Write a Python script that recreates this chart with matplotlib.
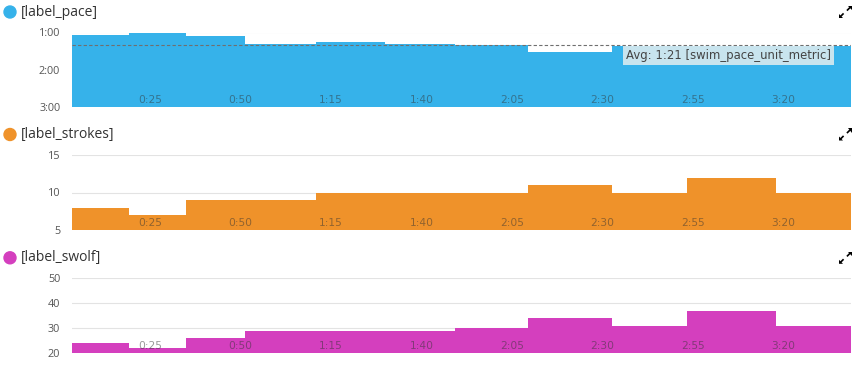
import matplotlib
matplotlib.use("Agg")
import matplotlib.pyplot as plt
from matplotlib.patches import Circle, Polygon
from matplotlib.lines import Line2D

# --- Data (one length per step, 25 m pool) ---
# length boundaries in seconds
edges = [3.5, 19.3, 34.9, 51.4, 70.9, 89.9, 109.3, 129.4, 152.5, 173.3, 197.8, 218.6]
pace = [64, 61, 66, 79, 76, 78, 80, 92, 82, 98, 82]        # sec / 100 m
strokes = [8, 7, 9, 9, 10, 10, 10, 11, 10, 12, 10]
swolf = [24, 22, 26, 29, 29, 29, 30, 34, 31, 37, 31]
pace_avg = 81
x_ticks = [25, 50, 75, 100, 125, 150, 175, 200]

BLUE = "#36b2ea"
ORANGE = "#ef922a"
MAGENTA = "#d43fbe"
W, H = 863, 383


def mmss(s):
    return f"{int(s) // 60}:{int(s) % 60:02d}"


def fx(px):
    return px / W


def fy(py):
    return 1 - py / H


plt.rcParams['font.family'] = ['Open Sans', 'DejaVu Sans']

fig = plt.figure(figsize=(W / 100, H / 100), dpi=100)

panels = [
    # title, values, color, y_top_px, y_bot_px, ylim(bottom, top), yticks, fmt
    ("[label_pace]", pace, BLUE, 32.5, 106.7, (180, 60), [60, 120, 180], mmss),
    ("[label_strokes]", strokes, ORANGE, 155, 230, (5, 15), [5, 10, 15], str),
    ("[label_swolf]", swolf, MAGENTA, 278.3, 353, (20, 50), [20, 30, 40, 50], str),
]

axes = []
for title, vals, color, ytop, ybot, ylim, yticks, fmt in panels:
    ax = fig.add_axes([fx(72), fy(ybot), fx(851 - 72), (ybot - ytop) / H])
    ax.set_xlim(edges[0], edges[-1])
    ax.set_ylim(*ylim)
    ax.stairs(vals, edges, baseline=ylim[0], fill=True, color=color, lw=0, zorder=2)

    ax.set_yticks(yticks)
    ax.set_yticklabels([fmt(v) for v in yticks], fontsize=7.8, color="#555555")
    ax.tick_params(axis="y", length=0, pad=8.5)
    ax.set_xticks([])
    ax.grid(axis="y", color="#e3e3e3", lw=0.8, zorder=0)
    ax.set_axisbelow(True)
    for sp in ax.spines.values():
        sp.set_visible(False)

    # x labels drawn inside the plot, above the baseline
    for t in x_ticks:
        ax.annotate(mmss(t), (t, ylim[0]), xytext=(0, 1.5), textcoords="offset points",
                    ha="center", va="bottom", fontsize=7.7, family="DejaVu Sans",
                    color="#333333", alpha=0.5, zorder=3)

    # header: coloured dot + label
    title_y = ytop - 20.5
    fig.add_artist(Circle((10 / 100, (H - title_y) / 100), 6 / 100, color=color,
                          transform=fig.dpi_scale_trans))
    fig.text(fx(21), fy(title_y), title, fontsize=10, color="#333333",
             ha="left", va="center")

    # expand icon (two small diagonal arrows, gap in the middle)
    cy = title_y
    heads = [
        [(847.5, cy - 6), (851.5, cy - 6), (851.5, cy - 2)],
        [(839, cy + 6), (839, cy + 2), (843, cy + 6)],
    ]
    for pts in heads:
        fig.add_artist(Polygon([(fx(x), fy(y)) for x, y in pts], closed=True,
                               color="black", transform=fig.transFigure, lw=0))
    for (x0, y0), (x1, y1) in [((849.5, cy - 4), (847.5, cy - 2)), ((841, cy + 4), (843, cy + 2))]:
        fig.add_artist(Line2D([fx(x0), fx(x1)], [fy(y0), fy(y1)], color="black",
                              lw=1.2, transform=fig.transFigure))
    axes.append(ax)

# average pace line + label
ax = axes[0]
ax.axhline(pace_avg, color="#6f6f6f", lw=0.8, ls=(0, (3, 2)), zorder=3)
ax.text(edges[-1] - 5.4, pace_avg + 6.3, "Avg: 1:21 [swim_pace_unit_metric]",
        family="DejaVu Sans", fontsize=8.4, color="#444444", ha="right", va="top",
        bbox=dict(facecolor="#c8e4ee", edgecolor="none", pad=2.2), zorder=4)

fig.savefig("out.png", dpi=100)
